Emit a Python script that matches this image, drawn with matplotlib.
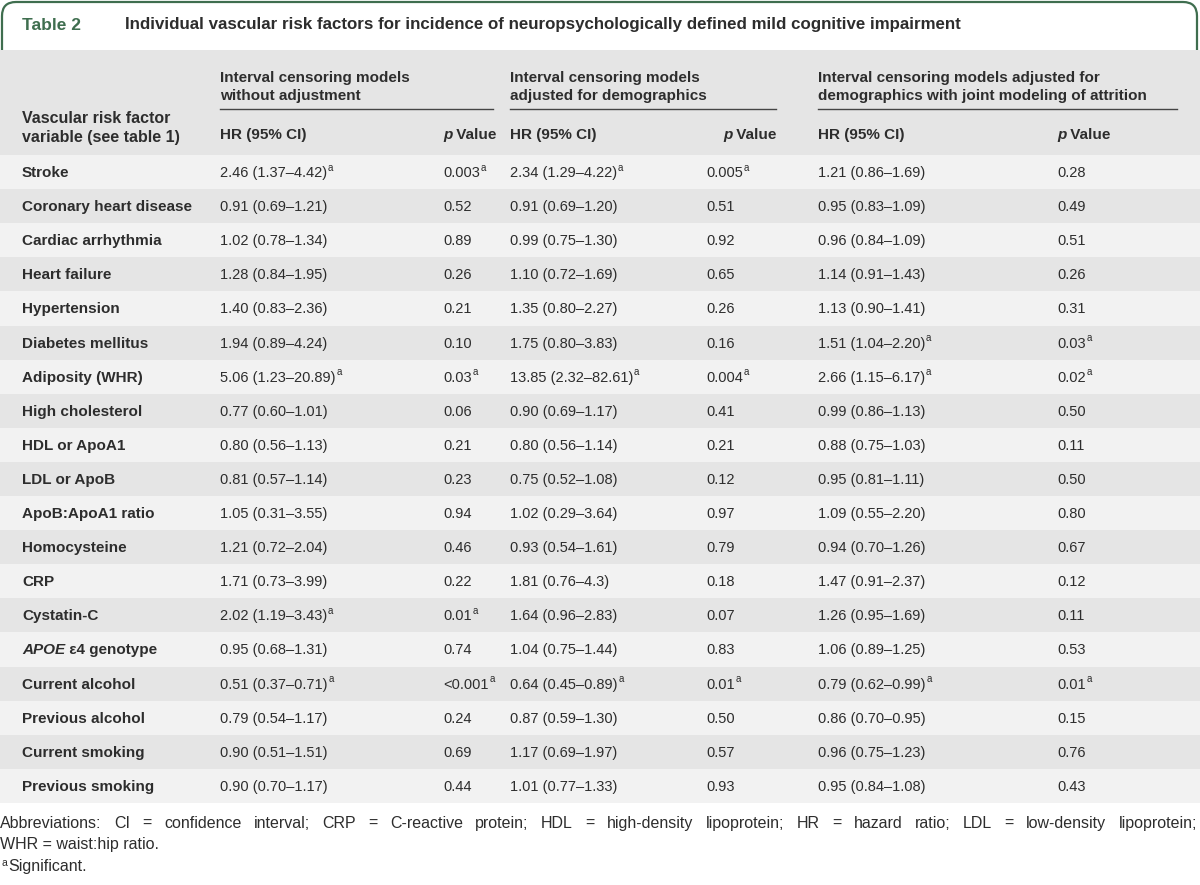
import matplotlib.pyplot as plt
from matplotlib.patches import FancyBboxPatch

factors = [
    "Stroke", "Coronary heart disease", "Cardiac arrhythmia", "Heart failure",
    "Hypertension", "Diabetes mellitus", "Adiposity (WHR)", "High cholesterol",
    "HDL or ApoA1", "LDL or ApoB", "ApoB:ApoA1 ratio", "Homocysteine", "CRP",
    "Cystatin-C", "APOE ε4 genotype", "Current alcohol", "Previous alcohol",
    "Current smoking", "Previous smoking",
]

hr_unadj = [
    "2.46 (1.37–4.42)", "0.91 (0.69–1.21)", "1.02 (0.78–1.34)", "1.28 (0.84–1.95)",
    "1.40 (0.83–2.36)", "1.94 (0.89–4.24)", "5.06 (1.23–20.89)", "0.77 (0.60–1.01)",
    "0.80 (0.56–1.13)", "0.81 (0.57–1.14)", "1.05 (0.31–3.55)", "1.21 (0.72–2.04)",
    "1.71 (0.73–3.99)", "2.02 (1.19–3.43)", "0.95 (0.68–1.31)", "0.51 (0.37–0.71)",
    "0.79 (0.54–1.17)", "0.90 (0.51–1.51)", "0.90 (0.70–1.17)",
]
p_unadj = [
    "0.003", "0.52", "0.89", "0.26", "0.21", "0.10", "0.03", "0.06", "0.21", "0.23",
    "0.94", "0.46", "0.22", "0.01", "0.74", "<0.001", "0.24", "0.69", "0.44",
]
sig_unadj = [1, 0, 0, 0, 0, 0, 1, 0, 0, 0, 0, 0, 0, 1, 0, 1, 0, 0, 0]

hr_demo = [
    "2.34 (1.29–4.22)", "0.91 (0.69–1.20)", "0.99 (0.75–1.30)", "1.10 (0.72–1.69)",
    "1.35 (0.80–2.27)", "1.75 (0.80–3.83)", "13.85 (2.32–82.61)", "0.90 (0.69–1.17)",
    "0.80 (0.56–1.14)", "0.75 (0.52–1.08)", "1.02 (0.29–3.64)", "0.93 (0.54–1.61)",
    "1.81 (0.76–4.3)", "1.64 (0.96–2.83)", "1.04 (0.75–1.44)", "0.64 (0.45–0.89)",
    "0.87 (0.59–1.30)", "1.17 (0.69–1.97)", "1.01 (0.77–1.33)",
]
p_demo = [
    "0.005", "0.51", "0.92", "0.65", "0.26", "0.16", "0.004", "0.41", "0.21", "0.12",
    "0.97", "0.79", "0.18", "0.07", "0.83", "0.01", "0.50", "0.57", "0.93",
]
sig_demo = [1, 0, 0, 0, 0, 0, 1, 0, 0, 0, 0, 0, 0, 0, 0, 1, 0, 0, 0]

hr_joint = [
    "1.21 (0.86–1.69)", "0.95 (0.83–1.09)", "0.96 (0.84–1.09)", "1.14 (0.91–1.43)",
    "1.13 (0.90–1.41)", "1.51 (1.04–2.20)", "2.66 (1.15–6.17)", "0.99 (0.86–1.13)",
    "0.88 (0.75–1.03)", "0.95 (0.81–1.11)", "1.09 (0.55–2.20)", "0.94 (0.70–1.26)",
    "1.47 (0.91–2.37)", "1.26 (0.95–1.69)", "1.06 (0.89–1.25)", "0.79 (0.62–0.99)",
    "0.86 (0.70–0.95)", "0.96 (0.75–1.23)", "0.95 (0.84–1.08)",
]
p_joint = [
    "0.28", "0.49", "0.51", "0.26", "0.31", "0.03", "0.02", "0.50", "0.11", "0.50",
    "0.80", "0.67", "0.12", "0.11", "0.53", "0.01", "0.15", "0.76", "0.43",
]
sig_joint = [0, 0, 0, 0, 0, 1, 1, 0, 0, 0, 0, 0, 0, 0, 0, 1, 0, 0, 0]

group_titles = [
    "Interval censoring models\nwithout adjustment",
    "Interval censoring models\nadjusted for demographics",
    "Interval censoring models adjusted for\ndemographics with joint modeling of attrition",
]

abbrev = ("Abbreviations: CI = confidence interval; CRP = C-reactive protein; HDL = high-density "
          "lipoprotein; HR = hazard ratio; LDL = low-density lipoprotein;")

TEXT = "#2d2d2d"
GREEN = "#3f6e4f"
DARK = "#e5e5e5"
LIGHT = "#f2f2f2"
BODY = ["Liberation Sans", "DejaVu Sans"]
NARROW = ["Liberation Sans Narrow", "Liberation Sans", "DejaVu Sans"]

fig = plt.figure(figsize=(12, 8.85), dpi=100)
ax = fig.add_axes([0, 0, 1, 1])
ax.set_xlim(0, 1200)
ax.set_ylim(885, 0)
ax.axis("off")

# title box
ax.add_patch(FancyBboxPatch((2, 2), 1195, 90, boxstyle="round,pad=0,rounding_size=14",
                            fill=False, ec=GREEN, lw=1.6))
ax.text(22, 25, "Table 2", color=GREEN, fontsize=12.5, fontweight="bold", family=NARROW, va="center")
ax.text(125, 25, "Individual vascular risk factors for incidence of neuropsychologically "
        "defined mild cognitive impairment", color=TEXT, fontsize=12.2, fontweight="bold",
        family=NARROW, va="center")

# header band and striped rows
head_top, top, row_h = 50, 155, 34.1
ax.barh((head_top + top) / 2, 1200, height=top - head_top, left=0, color=DARK, zorder=1)
centers = [top + row_h * (i + 0.5) for i in range(len(factors))]
ax.barh(centers, 1200, height=row_h, left=0,
        color=[LIGHT if i % 2 == 0 else DARK for i in range(len(factors))], zorder=1)


def put(x, y, s, sup=False, va="center", **kw):
    t = ax.text(x, y, s, va=va, ha="left", color=TEXT, zorder=3, **kw)
    if sup:
        ax.annotate("a", xy=(1, 1), xycoords=t, xytext=(0.5, 2.3), textcoords="offset points",
                    va="top", ha="left", fontsize=7, color=TEXT, family=BODY, zorder=3)
    return t


def p_value(x, y):
    t = put(x, y, "p", fontsize=11, fontweight="bold", fontstyle="italic", family=NARROW)
    ax.annotate(" Value", xy=(1, 0), xycoords=t, va="bottom", ha="left", fontsize=11,
                fontweight="bold", family=NARROW, color=TEXT, zorder=3)


# column headers
hr_x = [220, 510, 818]
p_x = [443, 706, 1057]
p_head_x = [443, 723, 1057]
line_end = [493, 776, 1177]
for k in range(3):
    put(hr_x[k], 87, group_titles[k], fontsize=11, fontweight="bold", family=NARROW, linespacing=1.3)
    ax.plot([hr_x[k], line_end[k]], [109, 109], color="#444444", lw=1, zorder=3)
    put(hr_x[k], 135, "HR (95% CI)", fontsize=11, fontweight="bold", family=NARROW)
    p_value(p_head_x[k], 135)
put(22, 128, "Vascular risk factor\nvariable (see table 1)", fontsize=11.5, fontweight="bold",
    family=NARROW, linespacing=1.3)

# body
label_kw = dict(fontsize=11, fontweight="bold", family=BODY)
num_kw = dict(fontsize=10.5, family=BODY)
cols = [(hr_unadj, p_unadj, sig_unadj), (hr_demo, p_demo, sig_demo), (hr_joint, p_joint, sig_joint)]
for i, yc in enumerate(centers):
    y = yc + 1
    name = factors[i]
    if name.startswith("APOE"):
        t = put(22, y, "APOE", fontstyle="italic", **label_kw)
        ax.annotate(name[4:], xy=(1, 0), xycoords=t, va="bottom", ha="left",
                    color=TEXT, zorder=3, **label_kw)
    else:
        put(22, y, name, **label_kw)
    for k, (hr, pv, sig) in enumerate(cols):
        put(hr_x[k], y, hr[i], sup=bool(sig[i]), **num_kw)
        put(p_x[k], y, pv[i], sup=bool(sig[i]), **num_kw)

# footnotes; first line is justified to the table width
foot_kw = dict(fontsize=11.5, family=BODY, va="baseline")
renderer = fig.canvas.get_renderer()
words = [put(0, 828, w, **foot_kw) for w in abbrev.split(" ")]
widths = [w.get_window_extent(renderer).width for w in words]
gap = (1197 - sum(widths)) / (len(words) - 1)
x = 0
for w, wd in zip(words, widths):
    w.set_x(x)
    x += wd + gap
put(0, 849, "WHR = waist:hip ratio.", **foot_kw)
t = put(8, 871, "Significant.", **foot_kw)
ax.annotate("a", xy=(0, 1), xycoords=t, xytext=(-0.5, 1), textcoords="offset points",
            va="top", ha="right", fontsize=7.5, color=TEXT, family=BODY)

fig.savefig("out.png", dpi=100)
